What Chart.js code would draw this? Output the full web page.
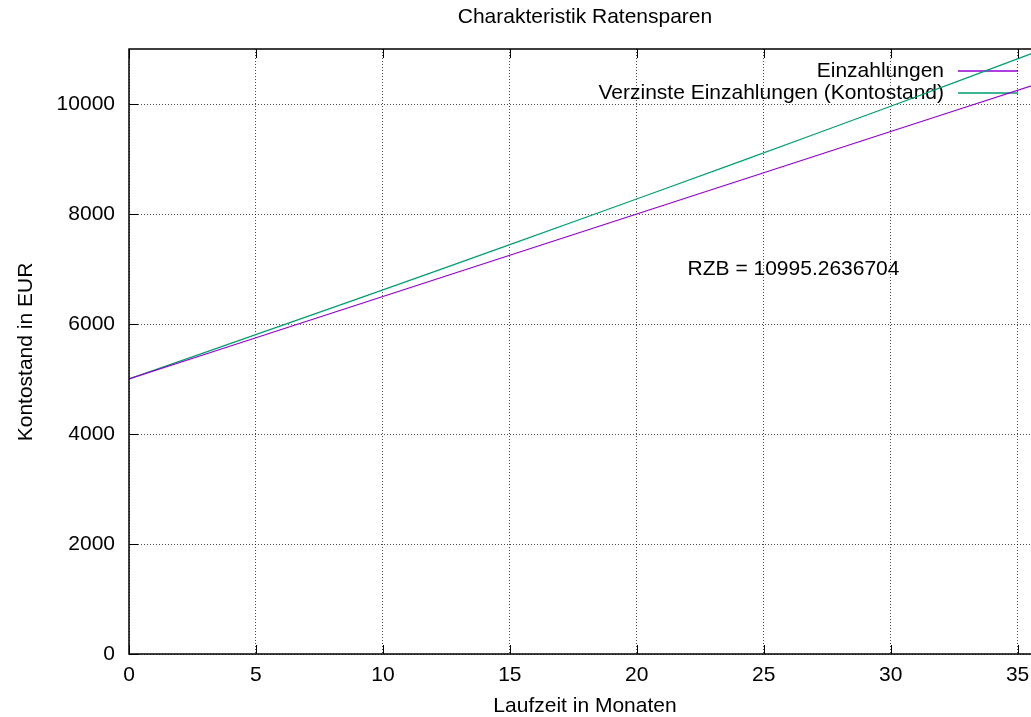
<!DOCTYPE html>
<html>
<head>
<meta charset="utf-8">
<script src="https://cdn.jsdelivr.net/npm/chart.js@4/dist/chart.umd.min.js"></script>
<style>
  html, body { margin: 0; padding: 0; background: #fff; overflow: hidden; }
  #wrap { width: 1050px; height: 717px; }
</style>
</head>
<body>
<div id="wrap"><canvas id="chart"></canvas></div>
<script>
// values
const months = [0, 3, 6, 9, 12, 15, 18, 21, 24, 27, 30, 33, 36];
const einzahlungen = [5000, 5450, 5900, 6350, 6800, 7250, 7700, 8150, 8600, 9050, 9500, 9950, 10400];
const kontostand = [5000, 5484, 5969, 6458, 6949, 7444, 7941, 8441, 8944, 9450, 9959, 10475, 10995];
const xTicks = [0, 5, 10, 15, 20, 25, 30, 35];
const yTicks = [0, 2000, 4000, 6000, 8000, 10000];
const rzbText = 'RZB = 10995.2636704';

const FAMILY = '"Liberation Sans", Arial, sans-serif';
const SIZE = 21;
const FONT = SIZE + 'px ' + FAMILY;
const PURPLE = '#9400d3';
const GREEN = '#009e73';

const toPoints = (xs, ys) => xs.map((x, i) => ({ x, y: ys[i] }));

// text that sits under the grid and lines: legend and RZB label
const underlay = {
  id: 'underlay',
  beforeDraw(chart) {
    const { ctx, chartArea, scales } = chart;
    ctx.save();
    ctx.font = FONT;
    ctx.fillStyle = '#000';
    ctx.textBaseline = 'middle';

    ctx.textAlign = 'left';
    ctx.fillText(rzbText, scales.x.getPixelForValue(22), scales.y.getPixelForValue(7000));

    const entries = [
      { text: 'Einzahlungen', color: PURPLE },
      { text: 'Verzinste Einzahlungen (Kontostand)', color: GREEN }
    ];
    entries.forEach((e, i) => {
      const y = chartArea.top + 22 + i * 22;
      ctx.textAlign = 'right';
      ctx.fillStyle = '#000';
      ctx.fillText(e.text, chartArea.right - 99, y);
      ctx.strokeStyle = e.color;
      ctx.lineWidth = 1.3;
      ctx.beginPath();
      ctx.moveTo(chartArea.right - 85, y);
      ctx.lineTo(chartArea.right - 25, y);
      ctx.stroke();
    });
    ctx.restore();
  }
};

// frame, inward ticks and titles
const frame = {
  id: 'frame',
  afterDraw(chart) {
    const { ctx, chartArea: a, scales } = chart;
    ctx.save();
    ctx.strokeStyle = '#000';
    ctx.lineWidth = 1.5;
    ctx.strokeRect(a.left, a.top, a.right - a.left, a.bottom - a.top);

    ctx.lineWidth = 1;
    ctx.beginPath();
    xTicks.forEach(v => {
      const x = Math.round(scales.x.getPixelForValue(v)) + 0.5;
      ctx.moveTo(x, a.bottom); ctx.lineTo(x, a.bottom - 9);
      ctx.moveTo(x, a.top); ctx.lineTo(x, a.top + 9);
    });
    yTicks.forEach(v => {
      const y = Math.round(scales.y.getPixelForValue(v)) + 0.5;
      ctx.moveTo(a.left, y); ctx.lineTo(a.left + 9, y);
      ctx.moveTo(a.right, y); ctx.lineTo(a.right - 9, y);
    });
    ctx.stroke();

    ctx.font = FONT;
    ctx.fillStyle = '#000';
    ctx.textAlign = 'center';
    ctx.textBaseline = 'middle';
    ctx.fillText('Charakteristik Ratensparen', 585, 17);
    ctx.fillText('Laufzeit in Monaten', 585, 706);

    ctx.translate(26, 352);
    ctx.rotate(-Math.PI / 2);
    ctx.fillText('Kontostand in EUR', 0, 0);
    ctx.restore();
  }
};

new Chart(document.getElementById('chart'), {
  type: 'line',
  data: {
    datasets: [
      {
        label: 'Einzahlungen',
        data: toPoints(months, einzahlungen),
        borderColor: PURPLE,
        borderWidth: 1.3,
        pointRadius: 0,
        tension: 0
      },
      {
        label: 'Verzinste Einzahlungen (Kontostand)',
        data: toPoints(months, kontostand),
        borderColor: GREEN,
        borderWidth: 1.3,
        pointRadius: 0,
        tension: 0
      }
    ]
  },
  options: {
    responsive: true,
    maintainAspectRatio: false,
    animation: false,
    layout: { padding: { top: 49, right: 7, left: 0, bottom: 0 } },
    plugins: {
      legend: { display: false },
      title: { display: false },
      tooltip: { enabled: false }
    },
    scales: {
      x: {
        type: 'linear',
        min: 0,
        max: 36,
        afterBuildTicks: s => { s.ticks = xTicks.map(value => ({ value })); },
        afterFit: s => { s.height = 63; },
        grid: { color: 'rgba(0,0,0,0.7)', lineWidth: 1, drawTicks: false },
        border: { display: false, dash: [1, 2] },
        ticks: { color: '#000', font: { family: FAMILY, size: SIZE }, padding: 9, maxRotation: 0,
                 callback: v => String(v) }
      },
      y: {
        min: 0,
        max: 11000,
        afterBuildTicks: s => { s.ticks = yTicks.map(value => ({ value })); },
        afterFit: s => { s.width = 129; },
        grid: { color: 'rgba(0,0,0,0.7)', lineWidth: 1, drawTicks: false },
        border: { display: false, dash: [1, 2] },
        ticks: { color: '#000', font: { family: FAMILY, size: SIZE }, padding: 14,
                 callback: v => String(v) }
      }
    }
  },
  plugins: [underlay, frame]
});
</script>
</body>
</html>
